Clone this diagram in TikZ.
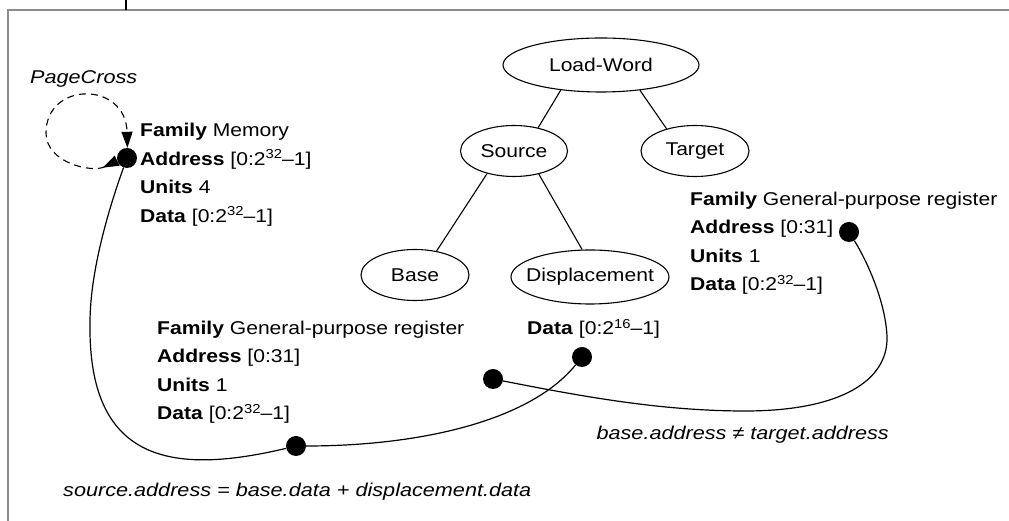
\documentclass[tikz,border=0pt]{standalone}
\usepackage{fontspec}
\setmainfont{Liberation Sans}[FakeStretch=1.14,
  BoldFeatures={FakeStretch=1.14}]
% italic face for the constraint notes
\newfontfamily\notefont{Liberation Sans Italic}[FakeStretch=1.17]
\usetikzlibrary{shapes.geometric,arrows.meta}

% raised exponent used in the ranges
\newcommand\supnum[1]{\raisebox{6.5pt}{\fontsize{13}{13}\selectfont #1}}

\begin{document}
\begin{tikzpicture}[x=1pt,y=1pt,
  attr/.style={font=\fontsize{18.5}{28.6}\selectfont, inner sep=0, align=left, anchor=north west},
  oval/.style={ellipse, draw, line width=1.1pt, inner sep=0, font=\fontsize{18.5}{22}\selectfont},
  tree/.style={line width=1.1pt},
  dot/.style={circle, fill=black, minimum size=20pt, inner sep=0},
  wire/.style={line width=1.2pt},
  loopline/.style={line width=1.1pt, dash pattern=on 7pt off 5pt},
  cnote/.style={font=\notefont\fontsize{18.5}{22}\selectfont, inner sep=0, anchor=base west},
  frame/.style={line width=1.6pt, draw=black!45},
  tip/.tip={Triangle[length=16pt,width=11pt]},
]
\useasboundingbox (0,0) rectangle (1009,521);

% outer frame
\draw[frame] (8,0) -- (8,511) -- (1009,511);
\draw[line width=1.2pt] (126,511) -- (126,521);

% operand tree
\node[oval, minimum width=196pt, minimum height=54pt] (lw)   at (601,456) {\makebox[0pt]{Load-Word}};
\node[oval, minimum width=107pt, minimum height=51pt] (src)  at (514,370) {\makebox[0pt]{Source}};
\node[oval, minimum width=108pt, minimum height=51pt] (tgt)  at (695,370) {\makebox[0pt]{Target}};
\node[oval, minimum width=108pt, minimum height=51pt] (base) at (415,246) {\makebox[0pt]{Base}};
\node[oval, minimum width=158pt, minimum height=54pt] (disp) at (590,244) {\makebox[0pt]{Displacement}};

\draw[tree] (lw.212) -- (src.44);
\draw[tree] (lw.327) -- (tgt.142);
\draw[tree] (src.220) -- (base.48);
\draw[tree] (src.317) -- (disp.106);

% attribute blocks
\node[attr] (memattr) at (140,399.5)
  {\rule{0pt}{15pt}\textbf{Family} Memory\\
   \textbf{Address} [0:2\supnum{32}–1]\\
   \textbf{Units} 4\\
   \textbf{Data} [0:2\supnum{32}–1]};
\node[attr] (tgtattr) at (690,331)
  {\rule{0pt}{15pt}\textbf{Family} General-purpose register\\
   \textbf{Address} [0:31]\\
   \textbf{Units} 1\\
   \textbf{Data} [0:2\supnum{32}–1]};
\node[attr] (baseattr) at (157,202)
  {\rule{0pt}{15pt}\textbf{Family} General-purpose register\\
   \textbf{Address} [0:31]\\
   \textbf{Units} 1\\
   \textbf{Data} [0:2\supnum{32}–1]};
\node[attr, anchor=base west] (dispattr) at (527,186) {\textbf{Data} [0:2\supnum{16}–1]};

% attribute ports
\node[dot] (memaddr)  at (127,363) {};
\node[dot] (tgtaddr)  at (849,289) {};
\node[dot] (dispdata) at (582,164) {};
\node[dot] (baseaddr) at (493,142) {};
\node[dot] (basedata) at (296,75) {};

% constraints
\draw[loopline, {tip[reversed]}-{tip}] (memaddr.195) .. controls (92,348) and (46,358) .. (46,388)
  .. controls (46,440) and (126,440) .. (memaddr.88);
\node[cnote] (pagecross) at (30,437.7) {PageCross};

\draw[wire] (memaddr) .. controls (109,313) and (90,250) .. (90,198)
  .. controls (88,60) and (170,45) .. (basedata);
\draw[wire] (basedata) .. controls (420,75) and (530,100) .. (dispdata);
\draw[wire] (baseaddr) .. controls (580,125) and (660,110) .. (745,110)
  .. controls (840,110) and (888,140) .. (887,184)
  .. controls (886,215) and (870,255) .. (tgtaddr);

\node[cnote, anchor=base east] (neqnote) at (889,81) {base.address ≠ target.address};
\node[cnote] (sumnote) at (63,24.3) {source.address = base.data + displacement.data};
\end{tikzpicture}
\end{document}
